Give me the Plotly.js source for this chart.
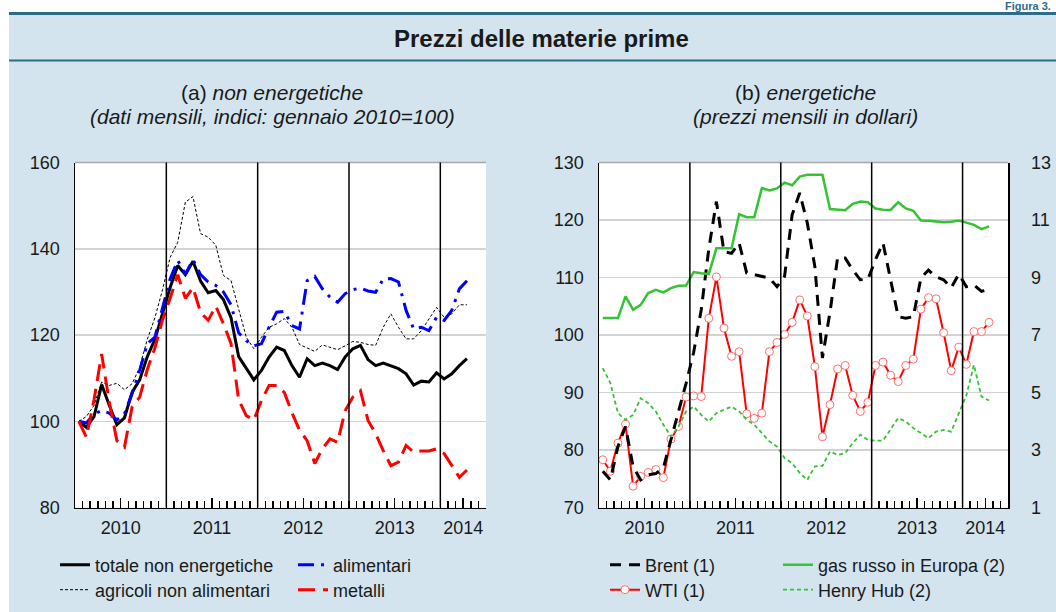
<!DOCTYPE html>
<html><head><meta charset="utf-8">
<script src="https://cdn.plot.ly/plotly-3.0.1.min.js"></script>
<style>html,body{margin:0;padding:0;background:#fff}#chart{width:1056px;height:612px}</style>
</head><body><div id="chart"></div>
<script>
// ---------- DATA ----------
const years = ['2010', '2011', '2012', '2013', '2014'];
const months = [];
for (const y of years) { for (let m = 1; m <= 12; m++) { if (y === '2014' && m > 4) break; months.push(y + '-' + String(m).padStart(2, '0')); } }

// (a) non energetiche, indici gennaio 2010 = 100
const totale = [100, 98.6, 101.1, 108.5, 103.7, 99.2, 100.8, 106.7, 109.6, 115, 119, 125,
  131, 136.1, 134, 137.1, 132.5, 129.8, 130.3, 128.2, 124, 115, 112.3, 109.6,
  111.8, 114.9, 117.2, 116.4, 112.9, 110.2, 114.5, 112.9, 113.5, 112.9, 112.0, 114.9,
  116.8, 117.6, 114.3, 112.9, 113.5, 112.8, 112.2, 111.0, 108.4, 109.3, 109.1, 111.2,
  109.8, 111.0, 112.9, 114.5];
const agricoli = [100, 101.1, 103.7, 109.1, 108.3, 108.8, 107.3, 108.7, 112.5, 119, 124, 130.5,
  138, 141.5, 150.8, 152.1, 143.5, 142.7, 140.8, 133.8, 132.6, 125.7, 119.5, 116.8,
  119.5, 121.8, 122.6, 123.8, 121.8, 117.8, 117, 116.2, 117.7, 117.2, 116.6, 117.5,
  118.5, 118.3, 117.8, 117.6, 121.8, 124.9, 121.8, 119.1, 119.1, 121, 123.8, 126.4,
  124.1, 124.9, 127, 127];
const alimentari = [100, 99.6, 101.7, 102.5, 101.9, 100.3, 101.7, 106.4, 111.8, 118, 119.5, 126,
  133, 137.3, 134.1, 137.5, 134, 132.3, 131.5, 130, 127, 120.5, 118.7, 117.5,
  118, 121.8, 125.3, 125.5, 122.2, 121.4, 132.6, 133.6, 130.7, 128.8, 127.6, 129.6,
  130.5, 130.9, 130.2, 129.9, 133, 133.1, 132.3, 125.7, 121.4, 121.8, 121, 124.1,
  123.4, 125.7, 130.7, 132.6];
const metalli = [100, 96.3, 105, 115.6, 104.5, 95.5, 94.0, 103.3, 105.6, 112, 117, 123.5,
  128.5, 134, 128.5, 131, 125.2, 123.4, 126.7, 122.6, 118, 105, 101.3, 100.3,
  104.8, 108.3, 108.3, 106.7, 102, 97.9, 95.5, 90.2, 93.6, 95.9, 95.1, 102.5,
  105.6, 107.1, 100.2, 97.1, 93.2, 89.7, 90.5, 94.4, 92.8, 93.1, 93.1, 93.6,
  92.5, 89.7, 87.0, 88.7];

// (b) energetiche, dollari
const brent = [76.3, 74.8, 80.6, 84.1, 77.1, 74.8, 75.7, 75.9, 76.9, 81.8, 86.4, 91.6,
  97, 104.4, 115, 123.2, 114.5, 114.2, 116, 110.8, 110.5, 110.2, 109.9, 108.4,
  110.2, 120.9, 124.7, 119.5, 111.9, 96, 104, 113.4, 113.4, 111.3, 109.6, 109.7,
  113.1, 116, 109.6, 103.2, 102.9, 103.2, 109.9, 111.3, 110.1, 109.6, 108.2, 110.6,
  108.4, 108.7, 107.6, 107.9];
const wti = [78.3, 76.3, 81.2, 84.5, 73.7, 75.4, 76.1, 76.6, 75.2, 81.9, 84.1, 89.2,
  89.4, 89.3, 102.9, 110.1, 101.2, 96.3, 97.1, 86.3, 85.5, 86.4, 97.1, 98.7,
  100.1, 102.2, 106.1, 103.3, 94.5, 82.3, 87.9, 94.1, 94.7, 89.5, 86.7, 88.3,
  94.7, 95.3, 93, 91.9, 94.7, 95.8, 104.5, 106.5, 106.3, 100.4, 93.8, 97.9,
  94.9, 100.6, 100.6, 102.2];
const gasRusso = [7.59, 7.59, 7.59, 8.34, 7.88, 8.05, 8.46, 8.57, 8.48, 8.63, 8.71, 8.72,
  9.19, 9.15, 9.12, 10.02, 10.02, 10.02, 11.2, 11.1, 11.1, 12.11, 12.03, 12.1,
  12.3, 12.21, 12.51, 12.57, 12.57, 12.57, 11.38, 11.37, 11.34, 11.56, 11.64, 11.62,
  11.4, 11.36, 11.35, 11.62, 11.4, 11.32, 10.98, 10.97, 10.95, 10.92, 10.94, 10.98,
  10.91, 10.83, 10.68, 10.78];
const henryHub = [5.85, 5.33, 4.28, 4.05, 4.22, 4.8, 4.63, 4.34, 3.88, 3.47, 3.82, 4.34,
  4.51, 4.22, 3.99, 4.28, 4.4, 4.51, 4.34, 4.05, 3.88, 3.59, 3.3, 3.12,
  2.72, 2.54, 2.2, 1.96, 2.43, 2.45, 2.95, 2.83, 2.89, 3.24, 3.53, 3.35,
  3.32, 3.33, 3.7, 4.11, 3.99, 3.76, 3.59, 3.41, 3.64, 3.7, 3.64, 4.3,
  4.9, 5.96, 4.86, 4.72];

// ---------- LAYOUT HELPERS ----------
const W = 1056, H = 612;
const px = v => v / W, py = v => 1 - v / H;
const nAxisMonths = 54; // axis spans Jan 2010 .. Jun 2014
const x = months.map((m, i) => i + 0.5);
const yearStart = years.map(y => months.findIndex(m => m.startsWith(y)));
const yearTicks = yearStart.map(s => (s + Math.min(s + 12, nAxisMonths)) / 2);
const yearBreaks = yearStart.slice(1);

const FONT = 'Liberation Sans, Arial, Helvetica, sans-serif';
const tickFont = {family: FONT, size: 18, color: '#1a1a1a'};
const BLUEBG = '#d3e4ee', TEAL = '#2c6c88';

function xAxis(domain, anchor) {
  return {domain, anchor, range: [0, nAxisMonths], showline: true, linecolor: '#000', linewidth: 1.5,
    ticks: 'inside', ticklen: 10, tickwidth: 1.5, tickcolor: '#000',
    tickmode: 'array', tickvals: yearTicks, ticktext: years, tickfont: tickFont, ticklabelstandoff: 3,
    minor: {ticks: 'inside', ticklen: 7, tickwidth: 1.5, tickcolor: '#000', dtick: 1, tick0: 0, showgrid: false},
    showgrid: false, zeroline: false, fixedrange: true};
}
function yAxis(domain, anchor, range, dtick, extra) {
  return Object.assign({domain, anchor, range, dtick, tick0: range[0], showline: true, linecolor: '#000', linewidth: 1.5,
    ticks: '', tickfont: tickFont, showgrid: true, gridcolor: '#d2d2d2', gridwidth: 1.5, zeroline: false,
    ticklabelstandoff: 10, fixedrange: true}, extra || {});
}
const yDom = [py(507.5), py(162.5)];

const traces = [
  {x, y: totale, xaxis: 'x', yaxis: 'y', name: 'totale non energetiche', mode: 'lines',
    line: {color: '#000', width: 3}, legend: 'legend'},
  {x, y: agricoli, xaxis: 'x', yaxis: 'y', name: 'agricoli non alimentari', mode: 'lines',
    line: {color: '#000', width: 1, dash: '3px,2px'}, legend: 'legend2'},
  {x, y: alimentari, xaxis: 'x', yaxis: 'y', name: 'alimentari', mode: 'lines',
    line: {color: '#0000ff', width: 3, dash: '16px,7px,3px,7px'}, legend: 'legend3'},
  {x, y: metalli, xaxis: 'x', yaxis: 'y', name: 'metalli', mode: 'lines',
    line: {color: '#ff0000', width: 3, dash: '17px,8px'}, legend: 'legend4'},
  {x, y: wti, xaxis: 'x2', yaxis: 'y3', name: 'WTI (1)', mode: 'lines+markers',
    line: {color: '#ff0000', width: 2}, marker: {symbol: 'circle', size: 8, color: '#ffffff', line: {color: '#ff7070', width: 1}},
    legend: 'legend6'},
  {x, y: brent, xaxis: 'x2', yaxis: 'y3', name: 'Brent (1)', mode: 'lines',
    line: {color: '#000', width: 3, dash: '11px,8px'}, legend: 'legend5'},
  {x, y: gasRusso, xaxis: 'x2', yaxis: 'y4', name: 'gas russo in Europa (2)', mode: 'lines',
    line: {color: '#33c333', width: 2.5}, legend: 'legend7'},
  {x, y: henryHub, xaxis: 'x2', yaxis: 'y4', name: 'Henry Hub (2)', mode: 'lines',
    line: {color: '#33c333', width: 1.8, dash: '4px,3px'}, legend: 'legend8'}
];

function leg(left, yc) {
  return {x: px(left - 3), y: py(yc), xanchor: 'left', yanchor: 'middle', bgcolor: 'rgba(0,0,0,0)',
    borderwidth: 0, font: {family: FONT, size: 18, color: '#1a1a1a'}, itemwidth: 30, itemclick: false};
}

const shapes = [
  {type: 'rect', xref: 'paper', yref: 'paper', x0: 0, x1: 1, y0: py(12), y1: 1, fillcolor: '#ffffff', line: {width: 0}},
  {type: 'rect', xref: 'paper', yref: 'paper', x0: 0, x1: px(9), y0: 0, y1: 1, fillcolor: '#ffffff', line: {width: 0}},
  {type: 'line', xref: 'paper', yref: 'paper', x0: px(9), x1: 1, y0: py(13.5), y1: py(13.5), line: {color: TEAL, width: 3}},
  {type: 'line', xref: 'paper', yref: 'paper', x0: px(9), x1: 1, y0: py(60.5), y1: py(60.5), line: {color: TEAL, width: 2}},
  {type: 'line', xref: 'x domain', yref: 'y domain', x0: 0, x1: 1, y0: 1, y1: 1, line: {color: '#a8a8a8', width: 1.5}},
  {type: 'line', xref: 'x2 domain', yref: 'y3 domain', x0: 0, x1: 1, y0: 1, y1: 1, line: {color: '#a8a8a8', width: 1.5}}
];
for (const b of yearBreaks) {
  shapes.push({type: 'line', xref: 'x', yref: 'y domain', x0: b, x1: b, y0: 0, y1: 1, line: {color: '#000', width: 1.5}});
  shapes.push({type: 'line', xref: 'x2', yref: 'y3 domain', x0: b, x1: b, y0: 0, y1: 1, line: {color: '#000', width: 1.5}});
}

const ann = (text, cx, cy, size, extra) => Object.assign({text, xref: 'paper', yref: 'paper', x: px(cx), y: py(cy),
  xanchor: 'center', yanchor: 'middle', showarrow: false, font: {family: FONT, size, color: '#1a1a1a'}}, extra || {});

const layout = {
  width: W, height: H, margin: {l: 0, r: 0, t: 0, b: 0},
  paper_bgcolor: BLUEBG, plot_bgcolor: '#ffffff', font: {family: FONT},
  showlegend: true,
  xaxis: xAxis([px(75), px(486)], 'y'),
  yaxis: yAxis(yDom, 'x', [80, 160], 20),
  yaxis2: yAxis(yDom, 'x', [80, 160], 20, {overlaying: 'y', side: 'right', showgrid: false}),
  xaxis2: xAxis([px(599), px(1008)], 'y3'),
  yaxis3: yAxis(yDom, 'x2', [70, 130], 10),
  yaxis4: yAxis(yDom, 'x2', [1, 13], 2, {overlaying: 'y3', side: 'right', showgrid: false, ticklabelstandoff: 18}),
  legend: leg(58, 565), legend2: leg(58, 590), legend3: leg(296, 565), legend4: leg(296, 590),
  legend5: leg(608, 565), legend6: leg(608, 590), legend7: leg(781, 565), legend8: leg(781, 590),
  shapes,
  annotations: [
    ann('<b>Prezzi delle materie prime</b>', 541, 38, 24),
    ann('(a) <i>non energetiche</i>', 272, 92, 21),
    ann('<i>(dati mensili, indici: gennaio 2010=100)</i>', 272, 117, 21),
    ann('(b) <i>energetiche</i>', 805, 92, 21),
    ann('<i>(prezzi mensili in dollari)</i>', 805, 117, 21),
    {text: '<b>Figura 3.</b>', xref: 'paper', yref: 'paper', x: px(1053), y: py(6), xanchor: 'right', yanchor: 'middle',
      showarrow: false, font: {family: FONT, size: 11, color: TEAL}}
  ]
};

Plotly.newPlot('chart', traces, layout, {displayModeBar: false, staticPlot: true});
</script></body></html>
